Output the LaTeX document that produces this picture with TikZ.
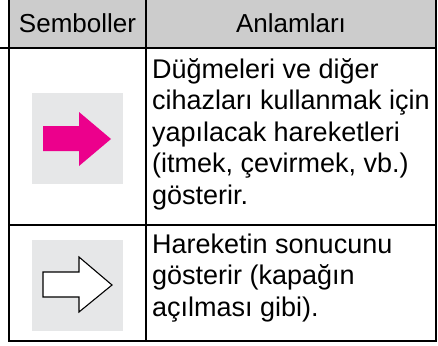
\documentclass[tikz,border=0pt]{standalone}
\usepackage{fontspec}
\setmainfont{Liberation Sans}
\definecolor{headgray}{RGB}{204,204,204}
\definecolor{boxgray}{RGB}{230,231,232}
\definecolor{arrowpink}{RGB}{236,0,140}
\tikzset{
  grid/.style={line width=1.8pt, line cap=rect},
  headtxt/.style={font=\fontsize{26}{31}\selectfont, inner sep=0pt, anchor=base},
  bodytxt/.style={font=\fontsize{27}{31.5}\selectfont, inner sep=0pt, align=left, anchor=base west},
  symbox/.style={fill=boxgray, draw=none},
}
\begin{document}
\begin{tikzpicture}[x=1pt,y=-1pt]
\useasboundingbox (0,0) rectangle (438,345);
% header background
\fill[headgray] (9,0) rectangle (436,48);
% symbol backgrounds
\fill[symbox] (32,93) rectangle (123,184);
\fill[symbox] (32,240) rectangle (123,331);
% pink arrow
\fill[arrowpink] (43,126) -- (79,126) -- (79,112) -- (111,139) -- (79,166) -- (79,151) -- (43,151) -- cycle;
% outline arrow
\filldraw[fill=white, draw=black, line width=1.1pt, line join=miter] (43,272) -- (79,272) -- (79,257) -- (112,285) -- (79,312) -- (79,297) -- (43,297) -- cycle;
% grid
\coordinate (tl) at (9,0);
\coordinate (tr) at (436,0);
\coordinate (bl) at (9,341);
\coordinate (br) at (436,341);
\coordinate (tm) at (146,0);
\coordinate (bm) at (146,341);
\coordinate (h1l) at (0,48);
\coordinate (h1r) at (436,48);
\coordinate (h2l) at (9,225);
\coordinate (h2r) at (436,225);
\draw[grid] (tl) -- (bl) -- (br) -- (tr);
\draw[grid] (tm) -- (bm);
\draw[grid] (h1l) -- (h1r);
\draw[grid] (h2l) -- (h2r);
% header texts
\node[headtxt] (hsym) at (77.5,33) {Semboller};
\node[headtxt] (hmean) at (291,33) {Anlamları};
% body texts (base anchor = baseline of last line)
\node[bodytxt] (t1) at (152,204) {Düğmeleri ve diğer\\cihazları kullanmak için\\yapılacak hareketleri\\(itmek, çevirmek, vb.)\\gösterir.};
\node[bodytxt] (t2) at (152,316) {Hareketin sonucunu\\gösterir (kapağın\\açılması gibi).};
\end{tikzpicture}
\end{document}
